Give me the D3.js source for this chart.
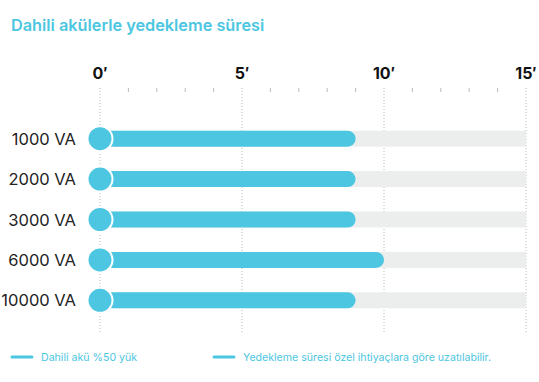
<!DOCTYPE html>
<html><head><meta charset="utf-8">
<script src="https://cdn.jsdelivr.net/npm/d3@7"></script>
<style>body{margin:0;background:#fff;font-family:Inter,"Noto Sans",sans-serif}</style>
</head><body><svg id="c" width="539" height="382"></svg>
<script>
const categories = ["1000 VA","2000 VA","3000 VA","6000 VA","10000 VA"];
const backupMinutes = [9, 9, 9, 10, 9];
const maxMinutes = [15, 15, 15, 15, 15];
const majorTicks = [0, 5, 10, 15];
const minorTicks = d3.range(0, 16);
const title = "Dahili akülerle yedekleme süresi";
const legendLabels = ["Dahili akü %50 yük", "Yedekleme süresi özel ihtiyaçlara göre uzatılabilir."];

const blue = "#4cc6e1", grey = "#eceeed";
const svg = d3.select("#c");
const x = d3.scaleLinear().domain([0, 15]).range([100, 526]);
const y = d3.scaleBand().domain(categories).range([118.5, 320.5]).padding(0);

svg.append("text").attr("x", 11).attr("y", 31).attr("fill", blue)
  .attr("font-size", 16.3).attr("font-weight", 600).text(title);

svg.selectAll(".ml").data(majorTicks).join("text")
  .attr("x", d => x(d)).attr("y", 79).attr("text-anchor", "middle")
  .attr("font-size", 16).attr("font-weight", 700).attr("fill", "#111")
  .text(d => d + "′");

svg.selectAll(".mt").data(minorTicks.filter(d => d % 5 !== 0)).join("line")
  .attr("x1", d => x(d)).attr("x2", d => x(d)).attr("y1", 88).attr("y2", 92)
  .attr("stroke", "#bbb").attr("stroke-width", 1);

svg.selectAll(".gl").data(majorTicks).join("line")
  .attr("x1", d => x(d)).attr("x2", d => x(d)).attr("y1", 88).attr("y2", 332)
  .attr("stroke", "#b8b8b8").attr("stroke-width", 1).attr("stroke-dasharray", "1,2");

const bh = 16;
const g = svg.selectAll(".row").data(categories).join("g");
g.append("rect").attr("x", x(0)).attr("width", (d,i) => x(maxMinutes[i]) - x(0))
  .attr("y", d => y(d) + y.bandwidth()/2 - bh/2).attr("height", bh).attr("fill", grey);
g.append("rect").attr("x", x(0)).attr("width", (d,i) => x(backupMinutes[i]) - x(0))
  .attr("y", d => y(d) + y.bandwidth()/2 - bh/2).attr("height", bh).attr("rx", bh/2).attr("fill", blue);
g.append("circle").attr("cx", x(0)).attr("cy", d => y(d) + y.bandwidth()/2).attr("r", 12.5)
  .attr("fill", blue).attr("stroke", "#fff").attr("stroke-width", 2);
g.append("text").attr("x", 76).attr("y", d => y(d) + y.bandwidth()/2 + 6)
  .attr("text-anchor", "end").attr("font-size", 16.5).attr("fill", "#222").text(d => d);

const lx = [12, 214];
legendLabels.forEach((t, i) => {
  svg.append("line").attr("x1", lx[i]).attr("x2", lx[i] + 20).attr("y1", 357).attr("y2", 357)
    .attr("stroke", blue).attr("stroke-width", 3).attr("stroke-linecap", "round");
  svg.append("text").attr("x", lx[i] + 29).attr("y", 361).attr("font-size", 10.6)
    .attr("fill", blue).text(t);
});
</script></body></html>
